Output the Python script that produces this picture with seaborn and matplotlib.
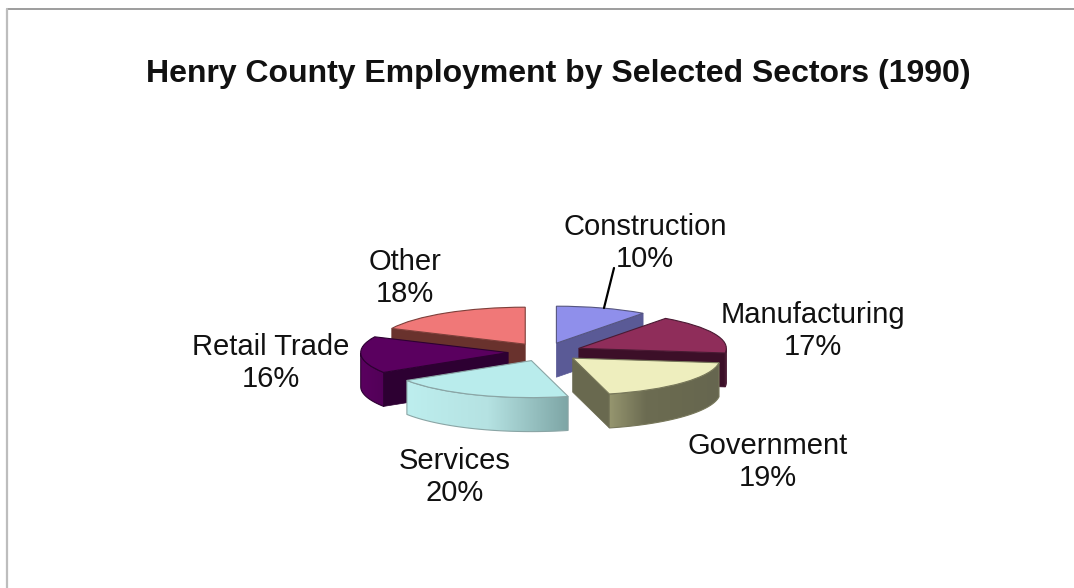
import numpy as np
import matplotlib
matplotlib.use("Agg")
import matplotlib.pyplot as plt
from matplotlib.colors import LinearSegmentedColormap
from matplotlib.lines import Line2D
from matplotlib.patches import Polygon
import seaborn as sns

# Data
sectors = ["Construction", "Manufacturing", "Government", "Services", "Retail Trade", "Other"]
shares = [10, 17, 19, 20, 16, 18]
title = "Henry County Employment by Selected Sectors (1990)"

# Colours
top_colors = ["#8f8feb", "#8f2d5a", "#eeeebe", "#b9ecec", "#5a005f", "#f07878"]
cut_colors = ["#5a5a96", "#3c0f28", "#69694f", "#7da5a5", "#2d0032", "#69322d"]
rim_stops = [
    ["#5a5a96", "#5a5a96"],
    ["#3c0f28", "#3c0f28"],
    ["#96966f", "#6c6c52", "#69694f", "#666650"],
    ["#bdeeee", "#b5e2e2", "#7da5a5"],
    ["#5a005f", "#520058"],
    ["#69322d", "#69322d"],
]
edge_colors = ["#55557f", "#4a1a33", "#77775a", "#8aa5a5", "#2d0032", "#7d3f3a"]
# back to front
draw_rank = [0, 2, 4, 5, 3, 1]

# Pie geometry in pixels
center_x, center_y = 545, 352
radius_x, radius_y = 147.5, 37
depth = 34 / radius_y

sns.set_theme(style="white")
plt.rcParams["font.family"] = ["Liberation Sans", "DejaVu Sans"]

fig = plt.figure(figsize=(10.74, 5.88), dpi=100, facecolor="white")
ax = fig.add_axes([0, 0, 1, 1])

wedges, _ = ax.pie(
    shares,
    explode=[0.25] * len(shares),
    colors=sns.color_palette(top_colors),
    startangle=90,
    counterclock=False,
    radius=1,
    wedgeprops={"linewidth": 0.8},
)


def lim():
    ax.set_aspect("auto")
    ax.set_xlim(-center_x / radius_x, (1074 - center_x) / radius_x)
    ax.set_ylim((center_y - 588) / radius_y, center_y / radius_y)


def rim_point(w, deg):
    t = np.radians(deg)
    return w.center[0] + w.r * np.cos(t), w.center[1] + w.r * np.sin(t)


for i, w in enumerate(wedges):
    z = 2 + draw_rank[i] * 3
    w.set_zorder(z + 2)
    w.set_edgecolor(edge_colors[i])

    # cut faces that look towards the viewer
    for edge, normal in ((w.theta1, w.theta1 - 90), (w.theta2, w.theta2 + 90)):
        if np.sin(np.radians(normal)) < -0.01:
            x, y = rim_point(w, edge)
            cx, cy = w.center
            face = [(cx, cy), (x, y), (x, y - depth), (cx, cy - depth)]
            ax.add_patch(Polygon(face, closed=True, facecolor=cut_colors[i],
                                 edgecolor=cut_colors[i], linewidth=0.5, zorder=z))

    # outer rim, only the front part of the arc
    degs = np.linspace(w.theta1, w.theta2, 120)
    degs = degs[np.sin(np.radians(degs)) < 0]
    if len(degs) > 1:
        upper = [rim_point(w, d) for d in degs]
        lower = [(px, py - depth) for px, py in upper[::-1]]
        outline = Polygon(upper + lower, closed=True, transform=ax.transData)
        xs = [p[0] for p in upper]
        ys = [p[1] for p in upper + lower]
        cmap = LinearSegmentedColormap.from_list("rim", rim_stops[i])
        im = ax.imshow(np.linspace(0, 1, 256).reshape(1, -1), cmap=cmap, aspect="auto",
                       extent=(min(xs), max(xs), min(ys), max(ys)), zorder=z + 1)
        im.set_clip_path(outline)
        ax.add_patch(Polygon(upper + lower, closed=True, fill=False,
                             edgecolor=edge_colors[i], linewidth=0.8, zorder=z + 1))

lim()
ax.axis("off")


# text placed in pixels of the reference
def put(px, py, s, **kw):
    fig.text(px / 1074, 1 - py / 588, s, ha="center", va="center", color="#111111", **kw)


label_pos = [(645, 243), (813, 331), (768, 462), (455, 477), (271, 363), (405, 278)]
for name, share, (px, py) in zip(sectors, shares, label_pos):
    put(px, py, f"{name}\n{share}%", fontsize=21, linespacing=1.15)

put(558, 74, title, fontsize=23, fontweight="bold")

# leader line of Construction
fig.add_artist(Line2D([604 / 1074, 614 / 1074], [1 - 308 / 588, 1 - 268 / 588],
                      color="black", linewidth=1.6))

# slide frame
fig.add_artist(Line2D([7 / 1074, 1], [1 - 8.5 / 588, 1 - 8.5 / 588], color="#8c8c8c", linewidth=1.2))
fig.add_artist(Line2D([7 / 1074, 7 / 1074], [0, 1 - 8.5 / 588], color="#bdbdbd", linewidth=1.6))

fig.savefig("out.png", dpi=100, facecolor="white")
